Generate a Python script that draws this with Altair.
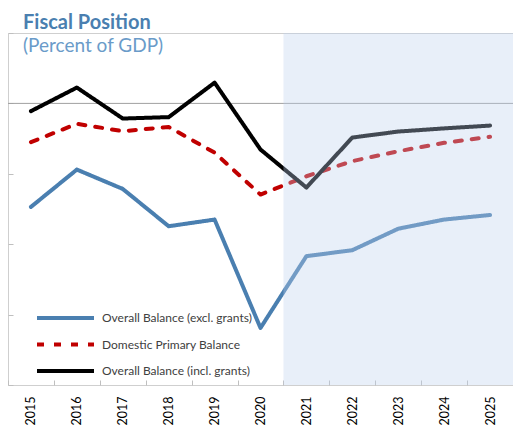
import altair as alt
import pandas as pd

years = list(range(2015, 2026))
excl_grants = [-2.94, -1.88, -2.43, -3.49, -3.30, -6.38, -4.34, -4.17, -3.56, -3.30, -3.17]
domestic_primary = [-1.10, -0.58, -0.79, -0.67, -1.40, -2.59, -2.07, -1.64, -1.36, -1.12, -0.95]
incl_grants = [-0.22, 0.45, -0.43, -0.39, 0.59, -1.31, -2.39, -0.97, -0.80, -0.71, -0.63]
series_names = ["Overall Balance (excl. grants)", "Domestic Primary Balance", "Overall Balance (incl. grants)"]
series_colors = ["#4a7fb0", "#c00000", "#000000"]
series_dashes = [[1, 0], [7, 10], [1, 0]]
y_ticks = [-8, -6, -4, -2, 0, 2]
projection_start, projection_end = 2020.5, 2025.5
title_text = "Fiscal Position"
subtitle_text = "(Percent of GDP)"

rows = []
for name, vals in zip(series_names, [excl_grants, domestic_primary, incl_grants]):
    for yr, v in zip(years, vals):
        rows.append({"year": yr, "value": v, "series": name})
df = pd.DataFrame(rows)

W, H = 505, 352
band = W / 11
FONT = "Lato"
xscale = alt.Scale(domain=[years[0] - 0.5, years[-1] + 0.5], nice=False, zero=False)
yscale = alt.Scale(domain=[y_ticks[0], y_ticks[-1]], nice=False, zero=False)

lines = alt.Chart(df).mark_line(strokeWidth=4, strokeCap="round", strokeJoin="round").encode(
    x=alt.X("year:Q", scale=xscale,
            axis=alt.Axis(values=years, format="d", labelAngle=-90, title=None, grid=False,
                          domain=False, ticks=True, tickSize=5, offset=-5,
                          tickOffset=-band / 2, labelOffset=band / 2, tickColor="#bfbfbf",
                          labelPadding=11, labelFont=FONT, labelFontSize=12.5,
                          labelColor="#000000")),
    y=alt.Y("value:Q", scale=yscale,
            axis=alt.Axis(values=y_ticks, labels=False, title=None, grid=False, domain=False,
                          tickSize=5, offset=-5, tickColor="#bfbfbf")),
    color=alt.Color("series:N", scale=alt.Scale(domain=series_names, range=series_colors), title=None),
    strokeDash=alt.StrokeDash("series:N", scale=alt.Scale(domain=series_names, range=series_dashes), title=None),
    order=alt.Order("year:Q"),
)

zero = alt.Chart(pd.DataFrame({"v": [0]})).mark_rule(color="#a0a0a0", strokeWidth=1).encode(
    y=alt.Y("v:Q", scale=yscale)
)

shade = alt.Chart(pd.DataFrame({"start": [projection_start], "end": [projection_end]})).mark_rect(
    color="#bdd1ee", opacity=0.35
).encode(
    x=alt.X("start:Q", scale=xscale),
    x2="end:Q",
    y=alt.value(0),
    y2=alt.value(H),
)

title = alt.Chart(pd.DataFrame({"t": [title_text]})).mark_text(
    align="left", baseline="alphabetic", font=FONT, fontSize=20, fontWeight="bold", color="#4a7fb0"
).encode(text="t:N", x=alt.value(15), y=alt.value(-4))

subtitle = alt.Chart(pd.DataFrame({"t": [subtitle_text]})).mark_text(
    align="left", baseline="alphabetic", font=FONT, fontSize=19, color="#6a9bc9"
).encode(text="t:N", x=alt.value(15), y=alt.value(19))

chart = alt.layer(zero, lines, shade, title, subtitle).properties(
    width=W, height=H,
    autosize=alt.AutoSizeParams(type="none"),
    padding={"left": 0, "top": 25, "right": 0, "bottom": 40},
).configure_view(stroke="#cfcfcf", strokeWidth=1).configure_legend(
    orient="none", legendX=27, legendY=277, symbolType="stroke", symbolSize=3249,
    symbolStrokeWidth=4, labelFont=FONT, labelFontSize=12, labelColor="#404040",
    labelOffset=6, rowPadding=10.5, padding=0, clipHeight=16,
)

chart.save("out.html", embed_options={"renderer": "svg", "actions": False})
